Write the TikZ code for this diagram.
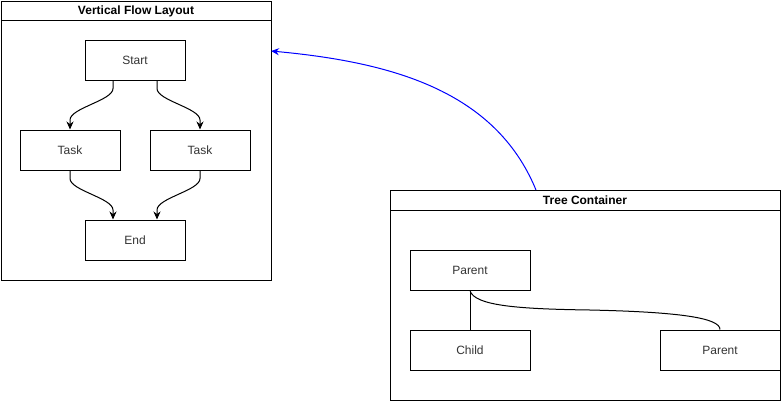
\documentclass[tikz,border=0pt]{standalone}
\usepackage{fontspec}
\setmainfont{Liberation Sans}
\usetikzlibrary{arrows.meta}
\begin{document}
\begin{tikzpicture}[x=1pt,y=-1pt,
  box/.style={draw=black, line width=1pt, fill=white, inner sep=0pt, font=\fontsize{12}{14}\selectfont, text=black!80},
  frame/.style={draw=black, line width=1pt, inner sep=0pt},
  title/.style={font=\fontsize{12}{14}\selectfont\bfseries, inner sep=0pt},
  flowarrow/.style={line width=1pt, -{Stealth[length=8pt,width=7pt]}},
  link/.style={line width=1pt}]
\useasboundingbox[fill=white] (0,0) rectangle (782,402);
% left container
\node[frame, minimum width=270pt, minimum height=279pt] (flow) at (136,140.5) {};
\draw[line width=1pt] (1,20) -- (271,20);
\node[title] (flowtitle) at (136,11) {Vertical Flow Layout};
\node[box, minimum width=100pt, minimum height=40pt] (start) at (135,60) {Start};
\node[box, minimum width=100pt, minimum height=40pt] (taskl) at (70,150) {Task};
\node[box, minimum width=100pt, minimum height=40pt] (taskr) at (200,150) {Task};
\node[box, minimum width=100pt, minimum height=40pt] (end) at (135,240) {End};
\draw[flowarrow] ([xshift=-22pt]start.south) -- ++(0,8) .. controls ++(0,12) and (70,108) .. (70,120) -- (taskl.north);
\draw[flowarrow] ([xshift=22pt]start.south) -- ++(0,8) .. controls ++(0,12) and (200,108) .. (200,120) -- (taskr.north);
\draw[flowarrow] (taskl.south) -- ++(0,8) .. controls ++(0,12) and (113,198) .. (113,210) -- ([xshift=-22pt]end.north);
\draw[flowarrow] (taskr.south) -- ++(0,8) .. controls ++(0,12) and (157,198) .. (157,210) -- ([xshift=22pt]end.north);
% right container
\node[frame, minimum width=390pt, minimum height=210pt] (tree) at (585,295) {};
\draw[line width=1pt] (390,210) -- (780,210);
\node[title] (treetitle) at (585,200.5) {Tree Container};
\node[box, minimum width=120pt, minimum height=40pt] (p1) at (470,270) {Parent};
\node[box, minimum width=120pt, minimum height=40pt] (child) at (470,350) {Child};
\node[box, minimum width=120pt, minimum height=40pt] (p2) at (720,350) {Parent};
\draw[link] (p1.south) -- (child.north);
\draw[link] (p1.south) .. controls (474,306) and (520,309) .. (590,310) .. controls (680,312) and (720,318) .. (p2.north);
% blue link
\coordinate (bs) at (536,190);
\coordinate (be) at (271,51);
\draw[flowarrow, blue] (bs) .. controls (495,90) and (390,62) .. (be);
\end{tikzpicture}
\end{document}
